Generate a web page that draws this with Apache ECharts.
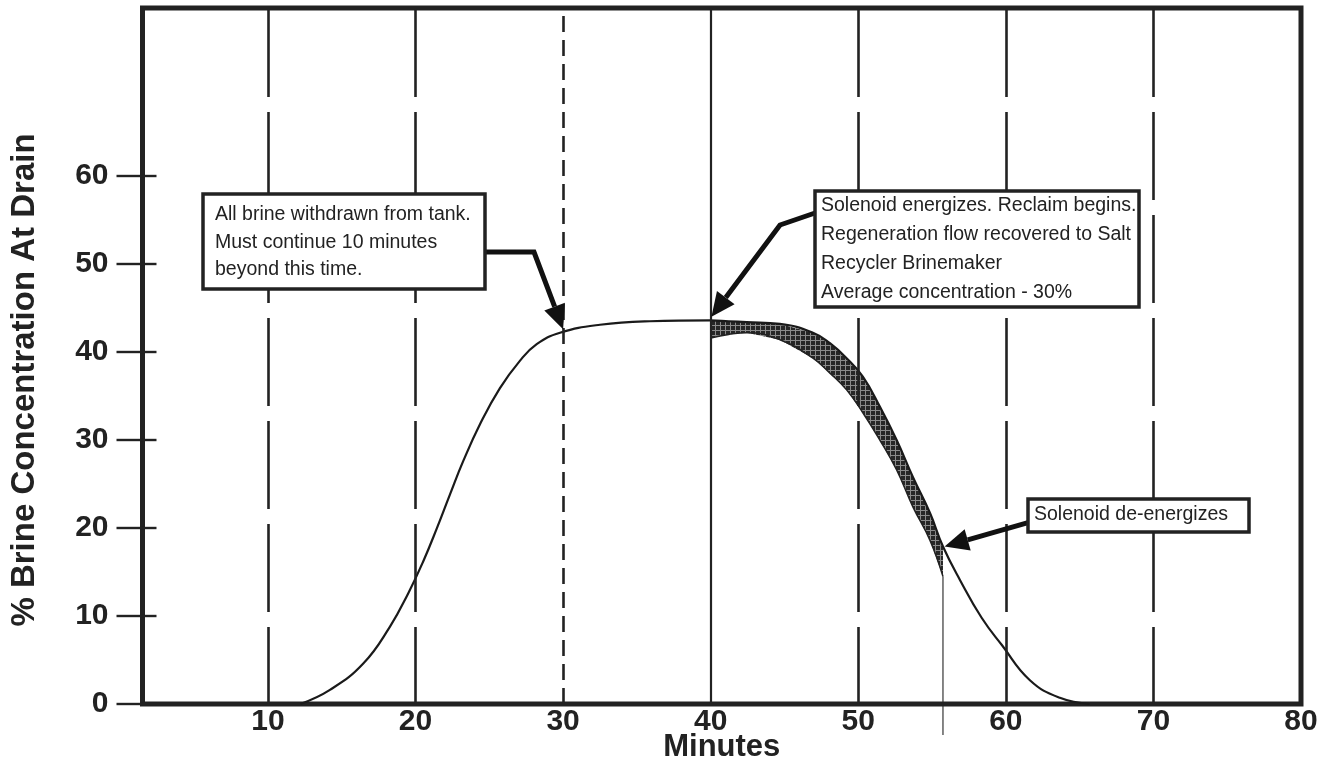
<!DOCTYPE html>
<html><head><meta charset="utf-8">
<script src="https://cdn.jsdelivr.net/npm/echarts@6/dist/echarts.min.js"></script>
<style>html,body{margin:0;padding:0;background:#fff}#c{width:1325px;height:765px}</style>
</head><body><div id="c"></div>
<script>
// ---- data (minutes, % brine concentration) ----
const riseX = [12.2, 14.2, 16.46, 18.27, 19.51, 20.52, 21.43, 22.33, 23.23, 24.4, 25.72, 27.07, 28.21, 29.79, 32.5, 35.88];
const riseY = [0, 1.6, 4.6, 8.8, 12.6, 16.2, 19.9, 23.8, 27.6, 31.9, 35.9, 39.0, 40.9, 42.2, 43.1, 43.5];
const bandX = [40, 41.22, 42.44, 44.69, 46.93, 48.08, 49.21, 50.31, 51.46, 52.6, 53.7, 54.86, 55.74];
const bandUpper = [43.6, 43.5, 43.4, 43.2, 42.2, 41.0, 39.3, 37.2, 33.8, 30.0, 25.8, 21.7, 17.9];
const bandLower = [41.6, 42.0, 42.2, 41.4, 39.3, 37.6, 35.7, 33.1, 30.0, 26.6, 22.4, 18.6, 14.5];
const fallX = [56.89, 58.36, 59.73, 61.63, 63.66, 65.69];
const fallY = [14.1, 9.8, 6.7, 2.7, 0.7, 0];
const gridMinutes = [10, 20, 30, 40, 50, 60, 70];
const xTicks = [10, 20, 30, 40, 50, 60, 70, 80];
const yTicks = [0, 10, 20, 30, 40, 50, 60];
const solenoidOffMinute = 55.74;
const solenoidOffLow = 14.5;

// ---- build ----
const zip = (a, b) => a.map((v, i) => [v, b[i]]);
const mainCurve = zip(riseX, riseY).concat(zip(bandX, bandUpper), zip(fallX, fallY));

const pat = document.createElement('canvas');
pat.width = 5; pat.height = 5;
const pc = pat.getContext('2d');
pc.fillStyle = '#262626'; pc.fillRect(0, 0, 5, 5);
pc.fillStyle = '#8a8a8a'; pc.fillRect(0, 0, 5, 1); pc.fillRect(0, 0, 1, 5);

const INK = '#222';
const BOLD = "'Liberation Sans', Arial, sans-serif";
const longDash = { type: [88, 15], dashOffset: 11, width: 2.6, color: INK };
const shortDash = { type: [16, 8], width: 2.6, color: INK };
const solid = { type: 'solid', width: 2.2, color: INK };
const gridStyle = m => m === 30 ? shortDash : (m === 40 ? solid : longDash);

const chart = echarts.init(document.getElementById('c'), null, { renderer: 'canvas' });
const option = {
  animation: false,
  backgroundColor: '#fff',
  grid: { left: 142.5, right: 24, top: 8, bottom: 61, outerBoundsMode: 'none', containLabel: false,
    show: true, borderColor: INK, borderWidth: 5, backgroundColor: 'transparent' },
  xAxis: {
    type: 'value', min: 1.5, max: 80,
    axisLine: { show: false }, axisTick: { show: false }, splitLine: { show: false },
    axisLabel: { customValues: xTicks, margin: 3, color: INK, fontWeight: 'bold', fontSize: 30, fontFamily: BOLD },
    name: 'Minutes', nameLocation: 'middle', nameGap: 28, nameMoveOverlap: false,
    nameTextStyle: { color: INK, fontWeight: 'bold', fontSize: 31, fontFamily: BOLD }
  },
  yAxis: [{
    type: 'value', min: 0, max: 79.1, position: 'left',
    axisLine: { show: false }, splitLine: { show: false },
    axisTick: { show: true, inside: false, length: 26, customValues: yTicks, lineStyle: { color: INK, width: 2.4 } },
    axisLabel: { customValues: yTicks, margin: 34, color: INK, fontWeight: 'bold', fontSize: 30, fontFamily: BOLD }
  }, {
    type: 'value', min: 0, max: 79.1, position: 'left',
    axisLine: { show: false }, splitLine: { show: false },
    axisTick: { show: true, inside: true, length: 14, customValues: yTicks, lineStyle: { color: INK, width: 2.4 } },
    axisLabel: { show: false }
  }],
  series: [
    {
      name: 'guides', type: 'line', data: [], z: 1, silent: true,
      markLine: {
        silent: true, symbol: 'none', label: { show: false }, animation: false,
        data: gridMinutes.map(m => ({ xAxis: m, lineStyle: gridStyle(m) }))
      }
    },
    {
      name: 'reclaim', type: 'custom', coordinateSystem: 'cartesian2d', data: [[bandX[0], bandLower[0]]], z: 2, silent: true,
      renderItem: (params, api) => {
        const up = bandX.map((x, i) => api.coord([x, bandUpper[i]]));
        const lo = bandX.map((x, i) => api.coord([x, bandLower[i]])).reverse();
        return { type: 'polygon', shape: { points: up.concat(lo) },
          style: { fill: { image: pat, repeat: 'repeat' }, stroke: null } };
      }
    },
    {
      name: 'reclaimLow', type: 'line', data: zip(bandX, bandLower), smooth: 0.45,
      symbol: 'none', z: 3, lineStyle: { color: INK, width: 1.5 }
    },
    {
      name: 'concentration', type: 'line', data: mainCurve, smooth: 0.45,
      symbol: 'none', z: 4, lineStyle: { color: '#1a1a1a', width: 2.2 }
    }
  ]
};
chart.setOption(option);

// ---- annotations ----
const BOXFONT = "19.5px 'Liberation Sans', Arial, sans-serif";
const boxes = [
  { x: 203, y: 194, w: 282, h: 95, tx: 215, ty: 201, lh: 27.5,
    text: 'All brine withdrawn from tank.\nMust continue 10 minutes\nbeyond this time.' },
  { x: 815, y: 191, w: 324, h: 116, tx: 821, ty: 191.5, lh: 29,
    text: 'Solenoid energizes. Reclaim begins.\nRegeneration flow recovered to Salt\nRecycler Brinemaker\nAverage concentration - 30%' },
  { x: 1028, y: 499, w: 221, h: 33, tx: 1034, ty: 502, lh: 26, text: 'Solenoid de-energizes' }
];
const arrows = [
  { pts: [[485, 252], [534, 252]], tip: [30, 42.6] },
  { pts: [[815, 213], [780, 225]], tip: [40.05, 44.0] },
  { pts: [[1028, 522.7]], tip: [55.85, 17.9] }
];
const els = [];
// thin drop line at the de-energize point, running below the axis
const dropTop = chart.convertToPixel({ gridIndex: 0 }, [solenoidOffMinute, solenoidOffLow]);
els.push({ type: 'line', z: 5, shape: { x1: dropTop[0], y1: dropTop[1], x2: dropTop[0], y2: 735 },
  style: { stroke: INK, lineWidth: 1.1 } });
boxes.forEach(b => {
  els.push({ type: 'rect', z: 20, shape: { x: b.x, y: b.y, width: b.w, height: b.h },
    style: { fill: '#fff', stroke: INK, lineWidth: 3.5 } });
  els.push({ type: 'text', z: 21, x: b.tx, y: b.ty,
    style: { text: b.text, font: BOXFONT, fill: INK, lineHeight: b.lh, verticalAlign: 'top', align: 'left' } });
});
arrows.forEach(a => {
  const tip = chart.convertToPixel({ gridIndex: 0 }, a.tip);
  const prev = a.pts[a.pts.length - 1];
  const dx = tip[0] - prev[0], dy = tip[1] - prev[1];
  const len = Math.hypot(dx, dy), ux = dx / len, uy = dy / len;
  const L = 24, W = 11;
  const base = [tip[0] - ux * L, tip[1] - uy * L];
  els.push({ type: 'polyline', z: 19, shape: { points: a.pts.concat([base]) },
    style: { stroke: '#111', lineWidth: 5, fill: null, lineJoin: 'miter' } });
  els.push({ type: 'polygon', z: 19, shape: { points: [tip, [base[0] - uy * W, base[1] + ux * W], [base[0] + uy * W, base[1] - ux * W]] },
    style: { fill: '#111' } });
});
els.push({ type: 'text', z: 21, x: 25, y: 380, rotation: Math.PI / 2,
  style: { text: '% Brine Concentration At Drain', font: "bold 33px 'Liberation Sans', Arial, sans-serif",
    fill: INK, align: 'center', verticalAlign: 'middle' } });
chart.setOption({ graphic: { elements: els } });
</script></body></html>
